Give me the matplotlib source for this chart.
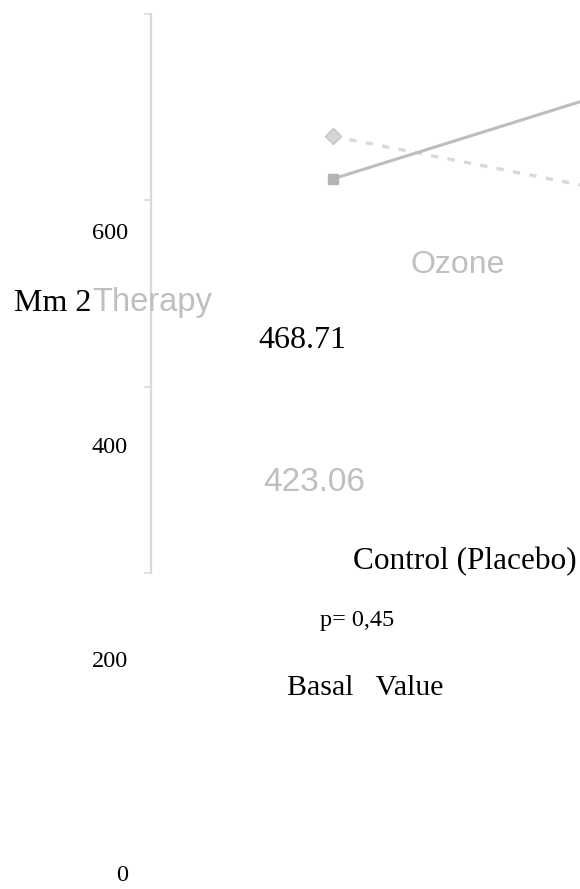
import matplotlib
matplotlib.use("Agg")
import matplotlib.pyplot as plt

# ---- data ----
timepoints = [0, 1]                      # basal value, follow-up (off-canvas)
ozone_values = [423.06, 545.0]           # Ozone Therapy (solid, squares)
control_values = [468.71, 392.0]         # Control (Placebo) (dashed, diamonds)
y_ticks = [0, 200, 400, 600]
y_tick_labels = ["0", "200", "400", "600"]

W, H = 580, 889
fig = plt.figure(figsize=(W / 100, H / 100), dpi=100)

def fx(px):
    return px / W

def fy(py):
    return 1 - py / H

# main plotting axes (gray spine)
ax = fig.add_axes([fx(151), fy(573), 728 / W, (573 - 14) / H])
ax.set_xlim(-0.5, 1.5)
ax.set_ylim(0, 600)
ax.set_facecolor("none")
for s in ["top", "right", "bottom"]:
    ax.spines[s].set_visible(False)
ax.spines["left"].set_color("#d9d9d9")
ax.spines["left"].set_linewidth(1.6)
ax.set_yticks(y_ticks)
ax.tick_params(axis="y", length=5, width=1.2, color="#d9d9d9", labelleft=False)
ax.set_xticks([])

ax.plot(timepoints, control_values, linestyle=(0, (2.2, 2.8)), color="#d9d9d9",
        lw=2.4, marker="D", markersize=8, markerfacecolor="#d6d6d6",
        markeredgecolor="#c4c4c4", clip_on=False, zorder=3)
ax.plot(timepoints, ozone_values, linestyle="-", color="#bdbdbd",
        lw=2.2, marker="s", markersize=7, markerfacecolor="#b3b3b3",
        markeredgecolor="#b3b3b3", clip_on=False, zorder=4)

# offset tick-label axis (black serif numbers)
ax2 = fig.add_axes([fx(135), fy(873), 0.01, (873 - 231) / H])
ax2.set_ylim(0, 600)
ax2.set_yticks(y_ticks)
ax2.set_yticklabels(y_tick_labels, fontfamily="Liberation Serif", fontsize=17.5)
ax2.tick_params(axis="y", length=0, pad=5)
ax2.set_xticks([])
for s in ax2.spines.values():
    s.set_visible(False)
ax2.set_facecolor("none")

serif = "Liberation Serif"
sans = "Liberation Sans"
gray = "#bfbfbf"

fig.text(fx(14), fy(311), "Mm 2", fontfamily=serif, fontsize=23, color="black", va="baseline")
fig.text(fx(92), fy(311), "Therapy", fontfamily=sans, fontsize=23.5, color=gray, va="baseline")
fig.text(fx(411), fy(273), "Ozone", fontfamily=sans, fontsize=23, color=gray, va="baseline")
fig.text(fx(258), fy(348), f"{control_values[0]:.2f}", fontfamily=serif, fontsize=23,
         color="black", va="baseline")
fig.text(fx(263), fy(491), f"{ozone_values[0]:.2f}", fontfamily=sans, fontsize=24,
         color=gray, va="baseline")
fig.text(fx(353), fy(569), "Control (Placebo)", fontfamily=serif, fontsize=22.5,
         color="black", va="baseline")
fig.text(fx(320), fy(626), "p= 0,45", fontfamily=serif, fontsize=17.5,
         color="black", va="baseline")
fig.text(fx(287), fy(695), "Basal   Value", fontfamily=serif, fontsize=21.5,
         color="black", va="baseline")

fig.savefig("out.png", dpi=100)
